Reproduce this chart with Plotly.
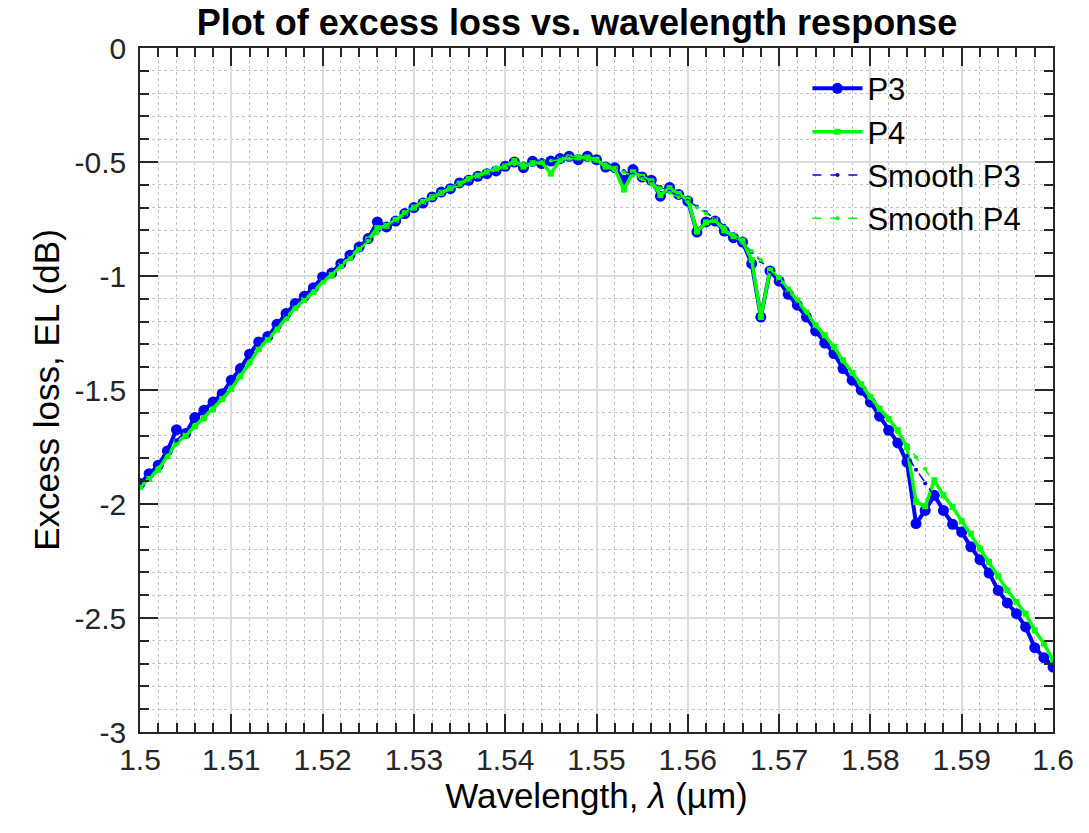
import numpy as np
import plotly.graph_objects as go

# wavelength grid (um), 1 nm steps
wavelength = np.round(np.linspace(1.5, 1.6, 101), 3)

p3 = [
    -1.910, -1.867, -1.830, -1.767, -1.674, -1.691, -1.621, -1.589, -1.553, -1.516,
    -1.457, -1.406, -1.343, -1.289, -1.265, -1.212, -1.165, -1.121, -1.089, -1.051,
    -1.004, -0.987, -0.946, -0.909, -0.873, -0.836, -0.763, -0.785, -0.759, -0.726,
    -0.700, -0.680, -0.653, -0.632, -0.617, -0.592, -0.580, -0.563, -0.551, -0.539,
    -0.519, -0.500, -0.525, -0.497, -0.507, -0.496, -0.485, -0.475, -0.490, -0.475,
    -0.490, -0.522, -0.525, -0.580, -0.533, -0.566, -0.580, -0.650, -0.612, -0.642,
    -0.671, -0.807, -0.763, -0.759, -0.803, -0.832, -0.851, -0.946, -1.180, -0.978,
    -1.022, -1.080, -1.128, -1.180, -1.241, -1.294, -1.340, -1.406, -1.457, -1.501,
    -1.553, -1.615, -1.677, -1.732, -1.816, -2.086, -2.028, -1.962, -2.028, -2.089,
    -2.123, -2.188, -2.244, -2.303, -2.379, -2.434, -2.481, -2.539, -2.630, -2.674,
    -2.715,
]

p4 = [
    -1.925, -1.890, -1.850, -1.790, -1.730, -1.700, -1.660, -1.625, -1.585, -1.540,
    -1.495, -1.440, -1.380, -1.320, -1.280, -1.235, -1.185, -1.140, -1.105, -1.070,
    -1.025, -0.995, -0.955, -0.920, -0.880, -0.840, -0.790, -0.780, -0.755, -0.725,
    -0.700, -0.675, -0.655, -0.635, -0.615, -0.595, -0.575, -0.560, -0.545, -0.530,
    -0.520, -0.496, -0.520, -0.505, -0.500, -0.551, -0.490, -0.480, -0.480, -0.480,
    -0.490, -0.520, -0.530, -0.621, -0.545, -0.565, -0.585, -0.645, -0.615, -0.640,
    -0.665, -0.805, -0.765, -0.755, -0.800, -0.825, -0.845, -0.930, -1.180, -0.975,
    -1.010, -1.060, -1.107, -1.160, -1.216, -1.260, -1.311, -1.370, -1.425, -1.475,
    -1.530, -1.582, -1.626, -1.677, -1.750, -1.991, -2.010, -1.896, -1.962, -2.013,
    -2.075, -2.130, -2.196, -2.254, -2.317, -2.379, -2.430, -2.481, -2.554, -2.612,
    -2.683,
]

smooth_p3 = [
    -1.910, -1.870, -1.820, -1.770, -1.720, -1.680, -1.630, -1.590, -1.550, -1.510,
    -1.460, -1.410, -1.350, -1.300, -1.260, -1.210, -1.170, -1.120, -1.090, -1.050,
    -1.010, -0.980, -0.940, -0.910, -0.870, -0.840, -0.810, -0.780, -0.760, -0.730,
    -0.700, -0.680, -0.655, -0.635, -0.615, -0.595, -0.580, -0.565, -0.550, -0.535,
    -0.520, -0.510, -0.505, -0.500, -0.495, -0.490, -0.485, -0.480, -0.485, -0.490,
    -0.495, -0.510, -0.525, -0.540, -0.555, -0.570, -0.590, -0.610, -0.630, -0.650,
    -0.670, -0.695, -0.720, -0.750, -0.780, -0.820, -0.855, -0.895, -0.935, -0.980,
    -1.020, -1.075, -1.125, -1.180, -1.240, -1.290, -1.340, -1.400, -1.455, -1.500,
    -1.555, -1.610, -1.670, -1.730, -1.790, -1.850, -1.910, -1.965, -2.020, -2.075,
    -2.125, -2.185, -2.240, -2.300, -2.370, -2.430, -2.480, -2.540, -2.620, -2.670,
    -2.715,
]

smooth_p4 = [
    -1.925, -1.885, -1.840, -1.790, -1.740, -1.700, -1.660, -1.620, -1.580, -1.540,
    -1.495, -1.440, -1.380, -1.325, -1.280, -1.235, -1.185, -1.140, -1.105, -1.065,
    -1.025, -0.990, -0.955, -0.920, -0.880, -0.845, -0.810, -0.780, -0.755, -0.725,
    -0.700, -0.675, -0.655, -0.635, -0.615, -0.595, -0.578, -0.562, -0.547, -0.533,
    -0.520, -0.510, -0.505, -0.500, -0.500, -0.495, -0.490, -0.485, -0.485, -0.490,
    -0.495, -0.510, -0.525, -0.545, -0.560, -0.575, -0.595, -0.615, -0.635, -0.655,
    -0.675, -0.700, -0.725, -0.755, -0.785, -0.820, -0.855, -0.890, -0.930, -0.970,
    -1.010, -1.060, -1.107, -1.160, -1.215, -1.260, -1.310, -1.370, -1.425, -1.475,
    -1.530, -1.580, -1.630, -1.685, -1.740, -1.795, -1.845, -1.900, -1.955, -2.010,
    -2.070, -2.130, -2.190, -2.250, -2.315, -2.375, -2.430, -2.485, -2.550, -2.610,
    -2.680,
]

# tick labels
x_ticks = [1.50, 1.51, 1.52, 1.53, 1.54, 1.55, 1.56, 1.57, 1.58, 1.59, 1.60]
x_labels = ["1.5", "1.51", "1.52", "1.53", "1.54", "1.55", "1.56", "1.57", "1.58", "1.59", "1.6"]
y_ticks = [0, -0.5, -1, -1.5, -2, -2.5, -3]
y_labels = ["0", "-0.5", "-1", "-1.5", "-2", "-2.5", "-3"]

BLUE = "#0000ff"
GREEN = "#00ff00"
FONT = "Liberation Sans, Arial, sans-serif"

fig = go.Figure()

# measured curves
fig.add_trace(go.Scatter(x=wavelength, y=p3, mode="lines+markers", name="P3",
                         line=dict(color=BLUE, width=4),
                         marker=dict(symbol="circle", size=11, color=BLUE)))
fig.add_trace(go.Scatter(x=wavelength, y=p4, mode="lines+markers", name="P4",
                         line=dict(color=GREEN, width=3.5),
                         marker=dict(symbol="square", size=6, color=GREEN)))

# smoothed curves
fig.add_trace(go.Scatter(x=wavelength, y=smooth_p3, mode="lines+markers", name="Smooth P3",
                         line=dict(color=BLUE, width=1.5, dash="dash"),
                         marker=dict(symbol="circle", size=4, color=BLUE)))
fig.add_trace(go.Scatter(x=wavelength, y=smooth_p4, mode="lines+markers", name="Smooth P4",
                         line=dict(color=GREEN, width=1.5, dash="dash"),
                         marker=dict(symbol="circle", size=4, color=GREEN)))

axis_common = dict(
    showline=True, linecolor="#262626", linewidth=1.5, mirror="ticks",
    ticks="inside", ticklen=18, tickwidth=1.5, tickcolor="#262626",
    showgrid=True, gridcolor="#dcdcdc", gridwidth=1.5,
    zeroline=False,
    tickfont=dict(family=FONT, size=30, color="#262626"),
)

fig.update_layout(
    width=1089, height=833,
    margin=dict(l=140, r=36, t=48, b=101),
    paper_bgcolor="white", plot_bgcolor="white",
    title=dict(text="<b>Plot of excess loss vs. wavelength response</b>",
               x=(577 - 140) / 913, xref="paper", xanchor="center",
               y=0.973, yref="container", yanchor="middle",
               font=dict(family=FONT, size=36, color="black")),
    font=dict(family=FONT, color="black"),
    legend=dict(x=0.731, y=0.98, xanchor="left", yanchor="top",
                bgcolor="rgba(0,0,0,0)", borderwidth=0,
                font=dict(family=FONT, size=31, color="black"),
                itemwidth=50, tracegroupgap=0),
    showlegend=True,
)

fig.update_xaxes(
    range=[1.5, 1.6], tickvals=x_ticks, ticktext=x_labels,
    title=dict(text="Wavelength, <i>λ</i> (µm)", font=dict(family=FONT, size=35, color="black"),
               standoff=9),
    minor=dict(dtick=0.002, tick0=1.5, ticks="inside", ticklen=9, tickwidth=1.5,
               tickcolor="#262626", showgrid=True, gridcolor="#c4c4c4",
               griddash="dot", gridwidth=1),
    **axis_common,
)
fig.update_yaxes(
    range=[-3, 0], tickvals=y_ticks, ticktext=y_labels,
    ticklabelstandoff=6,
    title=dict(text="Excess loss, EL (dB)", font=dict(family=FONT, size=35, color="black"),
               standoff=4),
    minor=dict(dtick=0.1, tick0=0, ticks="inside", ticklen=9, tickwidth=1.5,
               tickcolor="#262626", showgrid=True, gridcolor="#c4c4c4",
               griddash="dot", gridwidth=1),
    **axis_common,
)

# drop the default page margin so the figure sits at the window origin
fig.write_html("out.html", config={"displayModeBar": False},
               post_script="document.body.style.margin='0px';")
